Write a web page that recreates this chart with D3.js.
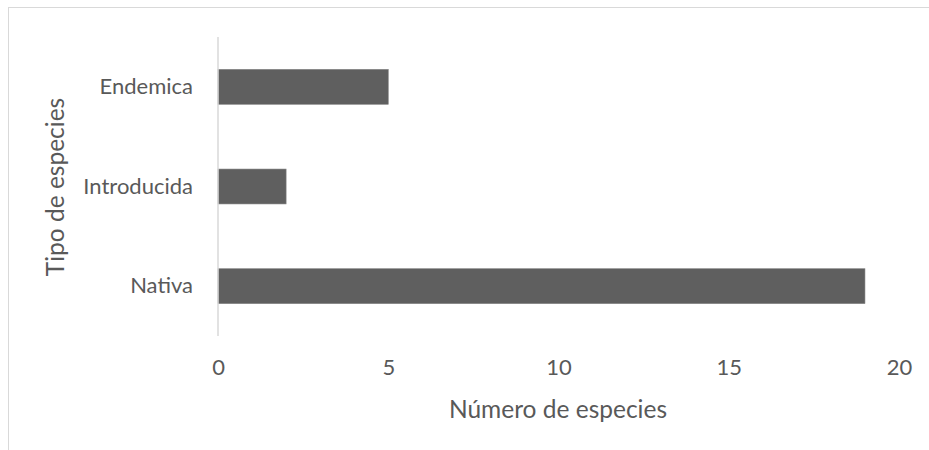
<!DOCTYPE html>
<html>
<head>
<meta charset="utf-8">
<script src="https://cdn.jsdelivr.net/npm/d3@7"></script>
<style>
  html, body { margin: 0; padding: 0; background: #ffffff; }
  svg { display: block; }
  text { font-family: Lato, "Open Sans", sans-serif; fill: #595959; }
</style>
</head>
<body>
<svg id="chart" width="929" height="450"></svg>
<script>
// Species types and their counts
const categories = ["Endemica", "Introducida", "Nativa"];
const counts = [5, 2, 19];
const xTicks = [0, 5, 10, 15, 20];
const xTitle = "Número de especies";
const yTitle = "Tipo de especies";

const svg = d3.select("#chart");
const W = 929, H = 450;

// Chart frame
svg.append("rect")
  .attr("x", 8.5).attr("y", 7.5)
  .attr("width", W + 10).attr("height", H + 10)
  .attr("fill", "#fff")
  .attr("stroke", "#d9d9d9").attr("stroke-width", 1);

const plot = { left: 218, right: 899, top: 37, bottom: 336 };

const x = d3.scaleLinear().domain([0, 20]).range([plot.left, plot.right]);
const y = d3.scaleBand().domain(categories).range([plot.top, plot.bottom])
  .paddingInner(0.65).paddingOuter(0.325);

// Bars
svg.append("g").selectAll("rect")
  .data(categories.map((c, i) => ({ c, v: counts[i] })))
  .join("rect")
  .attr("x", x(0))
  .attr("y", d => y(d.c))
  .attr("width", d => x(d.v) - x(0))
  .attr("height", y.bandwidth())
  .attr("fill", "#5f5f5f")
  .attr("stroke", "#7f7f7f").attr("stroke-width", 0.6);

// Vertical category axis line
svg.append("line")
  .attr("x1", x(0)).attr("x2", x(0))
  .attr("y1", plot.top).attr("y2", plot.bottom)
  .attr("stroke", "#d9d9d9").attr("stroke-width", 1.5);

// Category labels
const yAxis = d3.axisLeft(y).tickSize(0).tickPadding(25);
const gy = svg.append("g").attr("transform", `translate(${x(0)},0)`).call(yAxis);
gy.select(".domain").remove();
gy.selectAll("text").attr("font-size", 22).attr("fill", "#595959")
  .style("font-family", "Lato, sans-serif");

// Value axis labels
const xAxis = d3.axisBottom(x).tickValues(xTicks).tickSize(0).tickPadding(23);
const gx = svg.append("g").attr("transform", `translate(0,${plot.bottom})`).call(xAxis);
gx.select(".domain").remove();
gx.selectAll("text").attr("font-size", 22).attr("fill", "#595959")
  .style("font-family", "Lato, sans-serif");

// Axis titles
svg.append("text")
  .attr("x", 558).attr("y", 418)
  .attr("text-anchor", "middle")
  .attr("font-size", 24.5)
  .text(xTitle);

svg.append("text")
  .attr("transform", `translate(64,187) rotate(-90)`)
  .attr("text-anchor", "middle")
  .attr("font-size", 24.5)
  .text(yTitle);
</script>
</body>
</html>
